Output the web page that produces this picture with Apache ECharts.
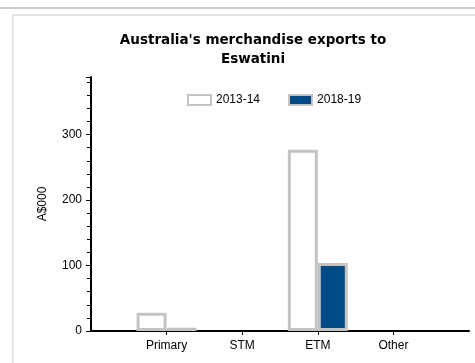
<!DOCTYPE html>
<html>
<head>
<meta charset="utf-8">
<script src="https://cdn.jsdelivr.net/npm/echarts@6/dist/echarts.min.js"></script>
<style>
  html, body { margin: 0; padding: 0; background: #fff; }
  #topline { position: absolute; left: 0; top: 7px; width: 475px; height: 2px; background: #cccccc; }
  #panel { position: absolute; left: 12px; top: 14px; width: 470px; height: 360px; border-left: 2px solid #e4e4e4; border-top: 2px solid #e4e4e4; }
  #chart { position: absolute; left: 0; top: 0; width: 475px; height: 363px; }
</style>
</head>
<body>
<div id="topline"></div>
<div id="panel"></div>
<div id="chart"></div>
<script>
// blanks at both ends so the labels sit on the axis points
var categories = ["", "Primary", "STM", "ETM", "Other", ""];
// STM and Other are empty in the picture (no bar drawn)
var exports1314 = [null, 28, null, 277, null, null];
var exports1819 = [null, 5, null, 104, null, null];
var yTicks = [0, 100, 200, 300];

var myChart = echarts.init(document.getElementById("chart"));
var option = {
  animation: false,
  title: {
    text: "Australia's merchandise exports to\nEswatini",
    left: 248,
    top: 26,
    textAlign: "center",
    textStyle: {
      fontFamily: "DejaVu Sans",
      fontSize: 13.5,
      fontWeight: "bold",
      color: "#000",
      lineHeight: 19,
    },
  },
  legend: {
    top: 89,
    left: 182,
    icon: "rect",
    itemWidth: 23,
    itemHeight: 10,
    itemGap: 28,
    textStyle: { fontFamily: "Liberation Sans", fontSize: 12, color: "#000" },
    data: ["2013-14", "2018-19"],
  },
  grid: {
    left: 91,
    right: 6,
    top: 77,
    bottom: 32,
  },
  xAxis: {
    type: "category",
    boundaryGap: false,
    data: categories,
    axisLine: { lineStyle: { color: "#000", width: 2 } },
    axisTick: {
      length: 4,
      lineStyle: { color: "#000" },
      interval: function (i, v) {
        return v !== "";
      },
    },
    axisLabel: {
      interval: 0,
      margin: 9,
      fontFamily: "Liberation Sans",
      fontSize: 12,
      color: "#000",
    },
  },
  yAxis: {
    type: "value",
    min: yTicks[0],
    max: 388,
    interval: 100,
    name: "A$000",
    nameLocation: "middle",
    nameRotate: 90,
    nameGap: 42,
    nameTextStyle: { fontFamily: "Liberation Sans", fontSize: 12, color: "#000" },
    splitLine: { show: false },
    axisLine: { show: true, lineStyle: { color: "#000", width: 2 } },
    axisTick: { show: true, length: 5, lineStyle: { color: "#000" } },
    minorTick: { show: true, splitNumber: 5, length: 4, lineStyle: { color: "#000" } },
    axisLabel: {
      showMaxLabel: false,
      margin: 9,
      fontFamily: "Liberation Sans",
      fontSize: 12,
      color: "#000",
    },
  },
  series: [
    {
      name: "2013-14",
      type: "bar",
      barWidth: 30,
      barGap: "0%",
      data: exports1314,
      itemStyle: { color: "#ffffff", borderColor: "#c4c4c4", borderWidth: 3 },
    },
    {
      name: "2018-19",
      type: "bar",
      barWidth: 30,
      barGap: "0%",
      data: exports1819,
      itemStyle: { color: "#004b87", borderColor: "#c4c4c4", borderWidth: 3 },
    },
  ],
};
option && myChart.setOption(option);
</script>
</body>
</html>
